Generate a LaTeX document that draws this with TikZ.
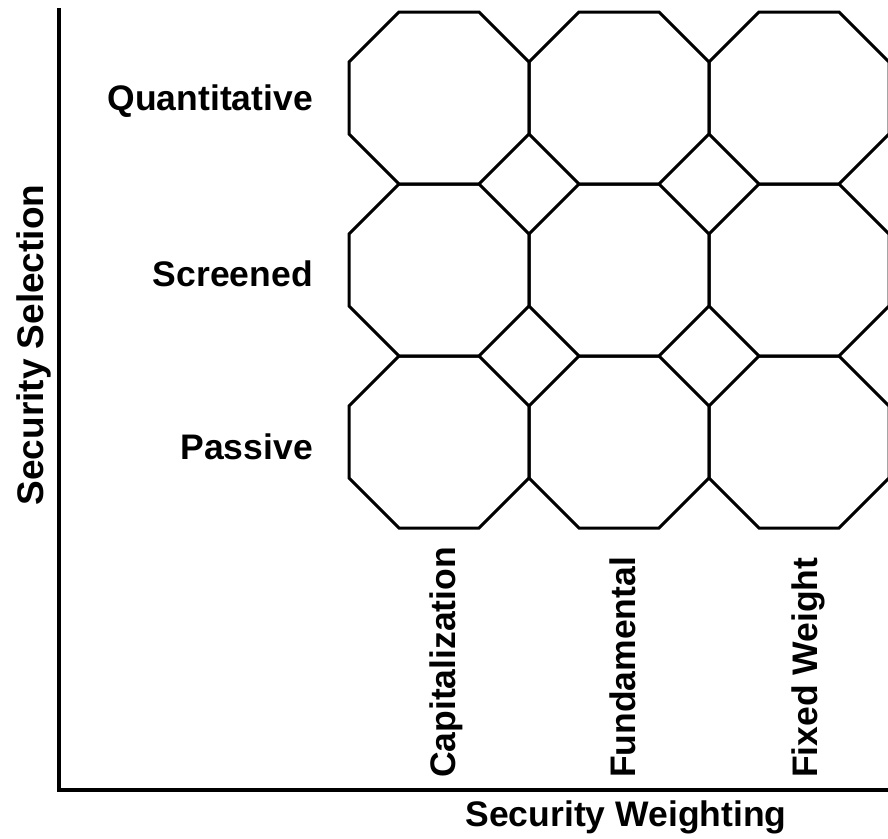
\documentclass[tikz,border=0pt]{standalone}
\usepackage{fontspec}
\setmainfont{Liberation Sans}

\tikzset{
  cell/.style={line width=3pt},
  axis/.style={line width=4pt},
  rowlabel/.style={anchor=base east, inner sep=0pt, font=\fontsize{35.5}{40}\selectfont\bfseries},
  collabel/.style={rotate=90, anchor=base west, inner sep=0pt, font=\fontsize{35.5}{40}\selectfont\bfseries},
  axislabel/.style={anchor=base, inner sep=0pt, font=\fontsize{35.5}{40}\selectfont\bfseries}
}

\begin{document}
\begin{tikzpicture}[x=1pt,y=-1pt]
\useasboundingbox (0,0) rectangle (888,838);
% the octagon grid
\foreach \c in {0,1,2}{
  \foreach \r in {0,1,2}{
    \draw[cell] ({399+180*\c},{12+172*\r}) -- ++(80,0) -- ++(50,50) -- ++(0,72)
      -- ++(-50,50) -- ++(-80,0) -- ++(-50,-50) -- ++(0,-72) -- cycle;
  }
}
% axes
\coordinate (top) at (59,8);
\coordinate (origin) at (59,790);
\coordinate (right) at (892,790);
\draw[axis] (top) -- (origin) -- (right);
% row labels
\node[rowlabel] (quant) at (313,110) {Quantitative};
\node[rowlabel] (screen) at (313,286) {Screened};
\node[rowlabel] (passive) at (313,459) {Passive};
% column labels
\node[collabel] (capw) at (455,778) {Capitalization};
\node[collabel] (fund) at (635,778) {Fundamental};
\node[collabel] (fixed) at (817,778) {Fixed Weight};
% axis titles
\node[axislabel, rotate=90, font=\fontsize{37}{42}\selectfont\bfseries] (sel) at (43,345) {Security Selection};
\node[axislabel] (wgt) at (626,826) {Security Weighting};
\end{tikzpicture}
\end{document}
